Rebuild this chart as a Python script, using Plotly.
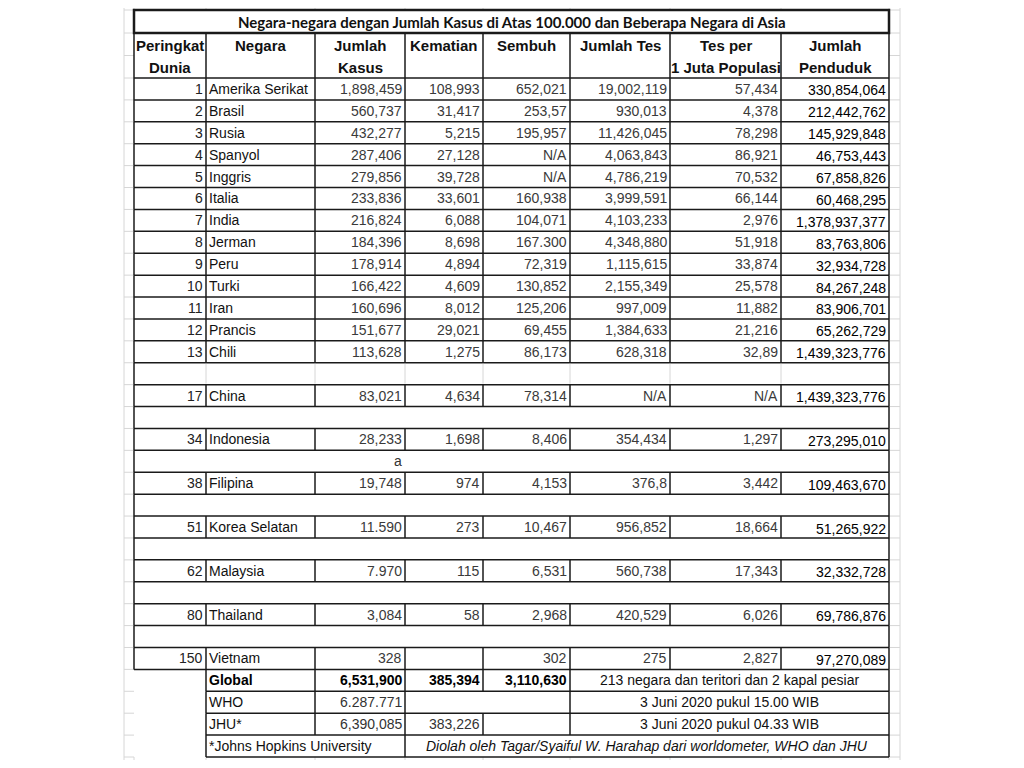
import plotly.graph_objects as go

# ---------------- data ----------------
title = "Negara-negara dengan Jumlah Kasus di Atas 100.000 dan Beberapa Negara di Asia"
header_top = ["Peringkat", "Negara", "Jumlah", "Kematian", "Sembuh", "Jumlah Tes", "Tes per", "Jumlah"]
header_bottom = ["Dunia", "", "Kasus", "", "", "", "1 Juta Populasi", "Penduduk"]

ranks = ["1", "2", "3", "4", "5", "6", "7", "8", "9", "10", "11", "12", "13",
         "17", "34", "38", "51", "62", "80", "150"]
countries = ["Amerika Serikat", "Brasil", "Rusia", "Spanyol", "Inggris", "Italia", "India",
             "Jerman", "Peru", "Turki", "Iran", "Prancis", "Chili", "China", "Indonesia",
             "Filipina", "Korea Selatan", "Malaysia", "Thailand", "Vietnam"]
cases = ["1,898,459", "560,737", "432,277", "287,406", "279,856", "233,836", "216,824",
         "184,396", "178,914", "166,422", "160,696", "151,677", "113,628", "83,021",
         "28,233", "19,748", "11.590", "7.970", "3,084", "328"]
deaths = ["108,993", "31,417", "5,215", "27,128", "39,728", "33,601", "6,088", "8,698",
          "4,894", "4,609", "8,012", "29,021", "1,275", "4,634", "1,698", "974", "273",
          "115", "58", ""]
recovered = ["652,021", "253,57", "195,957", "N/A", "N/A", "160,938", "104,071", "167.300",
             "72,319", "130,852", "125,206", "69,455", "86,173", "78,314", "8,406", "4,153",
             "10,467", "6,531", "2,968", "302"]
tests = ["19,002,119", "930,013", "11,426,045", "4,063,843", "4,786,219", "3,999,591",
         "4,103,233", "4,348,880", "1,115,615", "2,155,349", "997,009", "1,384,633",
         "628,318", "N/A", "354,434", "376,8", "956,852", "560,738", "420,529", "275"]
tests_per_million = ["57,434", "4,378", "78,298", "86,921", "70,532", "66,144", "2,976",
                     "51,918", "33,874", "25,578", "11,882", "21,216", "32,89", "N/A",
                     "1,297", "3,442", "18,664", "17,343", "6,026", "2,827"]
population = ["330,854,064", "212,442,762", "145,929,848", "46,753,443", "67,858,826",
              "60,468,295", "1,378,937,377", "83,763,806", "32,934,728", "84,267,248",
              "83,906,701", "65,262,729", "1,439,323,776", "1,439,323,776", "273,295,010",
              "109,463,670", "51,265,922", "32,332,728", "69,786,876", "97,270,089"]

# row sequence of the sheet: d = country row, gap = empty row, note = stray note row
row_kinds = ["d"] * 13 + ["gap", "d", "gap", "d", "note", "d", "gap", "d", "gap", "d",
                          "gap", "d", "gap", "d"]
note_text = "a"

global_label = "Global"
global_values = ["6,531,900", "385,394", "3,110,630"]
global_note = "213 negara dan teritori dan 2 kapal pesiar"
who_label = "WHO"
who_cases = "6.287.771"
who_note = "3 Juni 2020 pukul 15.00 WIB"
jhu_label = "JHU*"
jhu_values = ["6,390,085", "383,226"]
jhu_note = "3 Juni 2020 pukul 04.33 WIB"
footnote_left = "*Johns Hopkins University"
footnote_right = "Diolah oleh Tagar/Syaiful W. Harahap dari worldometer, WHO dan JHU"

# ---------------- layout constants ----------------
COL = [134, 206, 315, 405, 483, 570, 670, 781, 889]
GRID_L, GRID_R = 124, 900
TITLE_TOP, TITLE_BOT = 10, 33
HEAD_BOT = 78
N_ROWS = len(row_kinds) + 4
ROW_H = (757 - HEAD_BOT) / N_ROWS
PAGE_OFF = 8  # default body margin of the html page

BLACK = "#1a1a1a"
GRAY = "#d6d6d6"
FONT = "Liberation Sans, Arial, sans-serif"
FS = 14

fig = go.Figure()
fig.add_trace(go.Scatter(x=[PAGE_OFF, 1024], y=[PAGE_OFF, 760], mode="markers",
                         marker=dict(opacity=0), hoverinfo="skip", showlegend=False))

shapes = []
annotations = []


def line(x0, y0, x1, y1, color=BLACK, width=1.5):
    shapes.append(dict(type="line", xref="x", yref="y", x0=x0, y0=y0, x1=x1, y1=y1,
                       line=dict(color=color, width=width)))


def text(x, y, s, anchor="right", size=FS, color="#222", bold=False, italic=False, family=FONT):
    if s == "":
        return
    t = f"<b>{s}</b>" if bold else s
    t = f"<i>{t}</i>" if italic else t
    annotations.append(dict(x=x, y=y, xref="x", yref="y", text=t, showarrow=False,
                            xanchor=anchor, yanchor="middle",
                            font=dict(family=family, size=size, color=color)))


def row_top(i):
    return HEAD_BOT + i * ROW_H


# ---- spreadsheet gridlines (gray) ----
line(GRID_L, 0, GRID_L, 768, GRAY, 1)
line(GRID_R, 0, GRID_R, 768, GRAY, 1)
for x in COL:
    line(x, 0, x, TITLE_TOP, GRAY, 1)
    line(x, 757, x, 768, GRAY, 1)
for y in [TITLE_TOP, TITLE_BOT, 55.5, HEAD_BOT] + [row_top(i) for i in range(1, N_ROWS + 1)]:
    line(GRID_L, y, COL[0], y, GRAY, 1)
    line(COL[-1], y, GRID_R, y, GRAY, 1)

# ---- title box ----
shapes.append(dict(type="rect", xref="x", yref="y", x0=COL[0], x1=COL[-1],
                   y0=TITLE_TOP, y1=TITLE_BOT, line=dict(color=BLACK, width=2.5)))
text((COL[0] + COL[-1]) / 2, (TITLE_TOP + TITLE_BOT) / 2 + 0.5, title, anchor="center",
     size=15, color="#111", bold=True, family="Lato, Open Sans, sans-serif")

# ---- header ----
for x in COL:
    line(x, TITLE_BOT, x, HEAD_BOT)
line(COL[0], HEAD_BOT, COL[-1], HEAD_BOT)
for j in range(8):
    cx = (COL[j] + COL[j + 1]) / 2
    text(cx, 45, header_top[j], anchor="center", size=15, color="#111", bold=True)
    text(cx, 67.5, header_bottom[j], anchor="center", size=15, color="#111", bold=True)

# ---- body rows ----
k = 0
for i, kind in enumerate(row_kinds):
    y0, y1 = row_top(i), row_top(i + 1)
    yc = (y0 + y1) / 2
    line(COL[0], y1, COL[-1], y1)
    line(COL[0], y0, COL[0], y1)
    line(COL[-1], y0, COL[-1], y1)
    if kind == "gap":
        if i == 13:
            for x in COL[1:-1]:
                line(x, y0 + 1, x, y1 - 1, GRAY, 1)
        continue
    if kind == "note":
        text(COL[3] - 1, yc, note_text, color="#333")
        continue
    for x in COL[1:-1]:
        line(x, y0, x, y1)
    text(COL[1] - 1, yc, ranks[k], color="#222")
    text(COL[1] + 1, yc, countries[k], anchor="left", color="#111")
    text(COL[3] - 1, yc, cases[k], color="#3a3a3a")
    text(COL[4] - 1, yc, deaths[k], color="#3a3a3a")
    text(COL[5] - 1, yc, recovered[k], color="#3a3a3a")
    text(COL[6] - 1, yc, tests[k], color="#3a3a3a")
    text(COL[7] - 1, yc, tests_per_million[k], color="#3a3a3a")
    text(COL[8] - 1, yc + 1.5, population[k], color="#000")
    k += 1

# ---- summary block ----
base = len(row_kinds)
span_cx = (COL[5] + COL[8]) / 2
# Global
y0, y1 = row_top(base), row_top(base + 1)
yc = (y0 + y1) / 2
for x in [COL[1], COL[2], COL[3], COL[4], COL[5], COL[8]]:
    line(x, y0, x, y1)
line(COL[1], y1, COL[-1], y1)
text(COL[1] + 1, yc, global_label, anchor="left", color="#000", bold=True)
text(COL[3] - 1, yc, global_values[0], color="#000", bold=True)
text(COL[4] - 1, yc, global_values[1], color="#000", bold=True)
text(COL[5] - 1, yc, global_values[2], color="#000", bold=True)
text(span_cx, yc, global_note, anchor="center", color="#111")
# WHO
y0, y1 = row_top(base + 1), row_top(base + 2)
yc = (y0 + y1) / 2
for x in [COL[1], COL[2], COL[3], COL[5], COL[8]]:
    line(x, y0, x, y1)
line(COL[1], y1, COL[-1], y1)
text(COL[1] + 1, yc, who_label, anchor="left", color="#111")
text(COL[3] - 1, yc, who_cases, color="#333")
text(span_cx, yc, who_note, anchor="center", color="#111")
# JHU
y0, y1 = row_top(base + 2), row_top(base + 3)
yc = (y0 + y1) / 2
for x in [COL[1], COL[2], COL[3], COL[4], COL[5], COL[8]]:
    line(x, y0, x, y1)
line(COL[1], y1, COL[-1], y1)
text(COL[1] + 1, yc, jhu_label, anchor="left", color="#111")
text(COL[3] - 1, yc, jhu_values[0], color="#333")
text(COL[4] - 1, yc, jhu_values[1], color="#333")
text(span_cx, yc, jhu_note, anchor="center", color="#111")
# footnote
y0, y1 = row_top(base + 3), row_top(base + 4)
yc = (y0 + y1) / 2
for x in [COL[1], COL[3], COL[8]]:
    line(x, y0, x, y1)
line(COL[1], y1, COL[-1], y1)
text(COL[1] + 1, yc, footnote_left, anchor="left", color="#111")
text((COL[3] + COL[8]) / 2, yc, footnote_right, anchor="center", color="#111", italic=True)

# the page adds an 8px body margin, so the axes start at page pixel 8
fig.update_layout(
    width=1024 - PAGE_OFF, height=768 - 2 * PAGE_OFF,
    margin=dict(l=0, r=0, t=0, b=0),
    paper_bgcolor="white", plot_bgcolor="white",
    xaxis=dict(range=[PAGE_OFF, 1024], visible=False, fixedrange=True),
    yaxis=dict(range=[768 - PAGE_OFF, PAGE_OFF], visible=False, fixedrange=True),
    shapes=shapes, annotations=annotations, showlegend=False,
)

fig.write_html("out.html")
